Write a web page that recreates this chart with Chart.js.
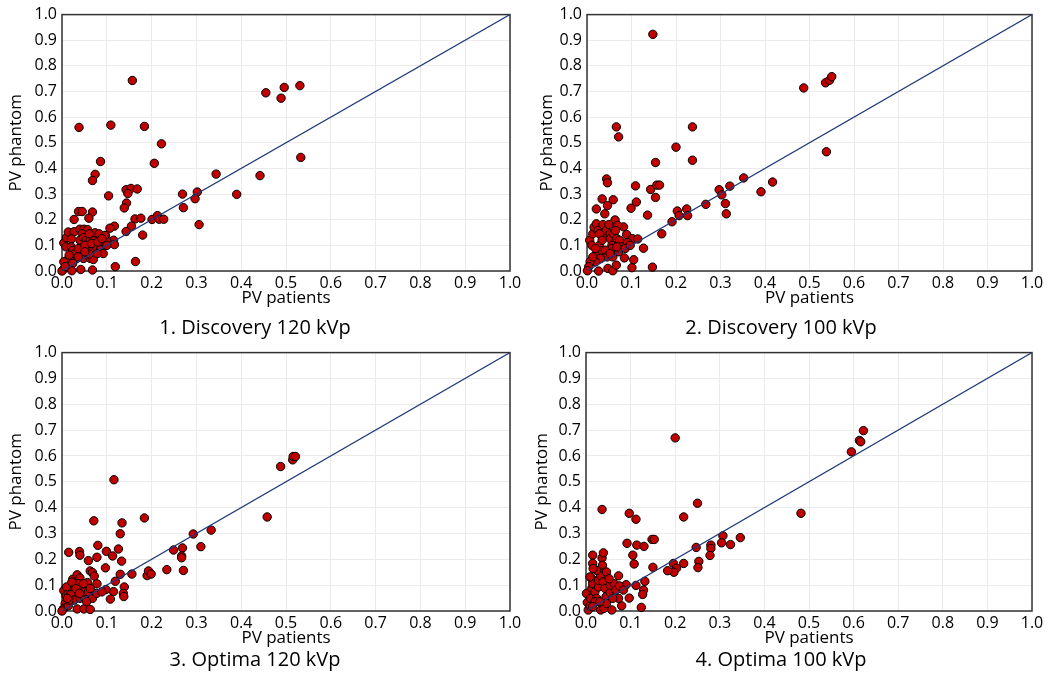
<!DOCTYPE html>
<html>
<head>
<meta charset="utf-8">
<script src="https://cdn.jsdelivr.net/npm/chart.js@4.4.1/dist/chart.umd.min.js"></script>
<style>
  html, body { margin: 0; padding: 0; background: #ffffff; }
  body { width: 1064px; height: 675px; position: relative; overflow: hidden; }
  canvas { position: absolute; }
</style>
</head>
<body>
<canvas id="p1" width="530" height="340" style="left:0px;top:0px"></canvas>
<canvas id="p2" width="530" height="340" style="left:530px;top:0px"></canvas>
<canvas id="p3" width="530" height="337" style="left:0px;top:338px"></canvas>
<canvas id="p4" width="530" height="337" style="left:530px;top:338px"></canvas>
<script>
// Axis ticks shared by both axes of every panel
const tickValues = [0.0, 0.1, 0.2, 0.3, 0.4, 0.5, 0.6, 0.7, 0.8, 0.9, 1.0];
// Line of identity (phantom = patients)
const identityLine = [0, 1];

const panelTitles = ['1. Discovery 120 kVp', '2. Discovery 100 kVp', '3. Optima 120 kVp', '4. Optima 100 kVp'];

// 1. Discovery 120 kVp
const discovery120Patients = [
  0.157, 0.455, 0.496, 0.489, 0.531, 0.533, 0.038, 0.109, 0.184, 0.222,
  0.086, 0.206, 0.074, 0.068, 0.344, 0.442, 0.104, 0.143, 0.154, 0.168,
  0.147, 0.144, 0.139, 0.269, 0.302, 0.297, 0.271, 0.390, 0.306, 0.037,
  0.045, 0.068, 0.027, 0.060, 0.163, 0.176, 0.201, 0.213, 0.217, 0.227,
  0.117, 0.107, 0.155, 0.143, 0.180, 0.119, 0.164, 0.115, 0.117, 0.097,
  0.100,
  0.004, 0.010, 0.014, 0.027, 0.021, 0.009, 0.021, 0.024, 0.040, 0.049,
  0.057, 0.045, 0.040, 0.048, 0.054, 0.063, 0.071, 0.074, 0.083, 0.096,
  0.061, 0.057, 0.043, 0.068, 0.077, 0.092, 0.086, 0.100, 0.048, 0.063,
  0.070, 0.033, 0.018, 0.010, 0.004, 0.024, 0.042, 0.068, 0.022, 0.003,
  0.000, 0.007, 0.029, 0.036, 0.051, 0.066, 0.080, 0.089, 0.092, 0.079,
  0.061, 0.051, 0.036, 0.016
];
const discovery120Phantom = [
  0.743, 0.695, 0.716, 0.674, 0.723, 0.443, 0.560, 0.569, 0.564, 0.496,
  0.427, 0.420, 0.377, 0.353, 0.378, 0.372, 0.293, 0.317, 0.322, 0.320,
  0.302, 0.265, 0.246, 0.300, 0.308, 0.282, 0.247, 0.299, 0.181, 0.232,
  0.232, 0.230, 0.201, 0.206, 0.203, 0.206, 0.201, 0.216, 0.202, 0.202,
  0.175, 0.167, 0.175, 0.154, 0.140, 0.017, 0.037, 0.120, 0.103, 0.138,
  0.117,
  0.109, 0.130, 0.152, 0.153, 0.125, 0.094, 0.094, 0.081, 0.163, 0.163,
  0.161, 0.145, 0.120, 0.130, 0.120, 0.122, 0.120, 0.149, 0.145, 0.139,
  0.145, 0.079, 0.068, 0.081, 0.094, 0.094, 0.084, 0.100, 0.049, 0.049,
  0.045, 0.049, 0.042, 0.040, 0.036, 0.030, 0.006, 0.004, 0.001, 0.006,
  0.000, 0.017, 0.068, 0.087, 0.100, 0.107, 0.113, 0.126, 0.068, 0.068,
  0.066, 0.075, 0.055, 0.062
];

// 2. Discovery 100 kVp
const discovery100Patients = [
  0.148, 0.487, 0.536, 0.545, 0.550, 0.538, 0.066, 0.071, 0.200, 0.237,
  0.237, 0.154, 0.044, 0.046, 0.109, 0.143, 0.157, 0.163, 0.154, 0.111,
  0.099, 0.136, 0.352, 0.417, 0.297, 0.303, 0.321, 0.391, 0.311, 0.313,
  0.267, 0.224, 0.203, 0.207, 0.226, 0.191, 0.168, 0.127, 0.147, 0.101,
  0.105, 0.084, 0.021, 0.034, 0.040, 0.046, 0.059, 0.063, 0.082, 0.089,
  0.102, 0.114, 0.091,
  0.006, 0.011, 0.013, 0.016, 0.021, 0.025, 0.028, 0.036, 0.037, 0.043,
  0.049, 0.052, 0.052, 0.056, 0.060, 0.067, 0.069, 0.073, 0.076, 0.064,
  0.056, 0.022, 0.034, 0.041, 0.045, 0.030, 0.019, 0.007, 0.004, 0.001,
  0.026, 0.047, 0.058, 0.066, 0.058, 0.071, 0.086, 0.097, 0.052, 0.013,
  0.019, 0.028, 0.034, 0.067
];
const discovery100Phantom = [
  0.923, 0.714, 0.734, 0.744, 0.758, 0.465, 0.562, 0.523, 0.483, 0.562,
  0.432, 0.423, 0.359, 0.344, 0.332, 0.318, 0.335, 0.335, 0.287, 0.269,
  0.245, 0.218, 0.363, 0.347, 0.317, 0.297, 0.331, 0.309, 0.263, 0.223,
  0.260, 0.242, 0.234, 0.216, 0.216, 0.192, 0.145, 0.089, 0.015, 0.013,
  0.044, 0.051, 0.242, 0.281, 0.223, 0.255, 0.278, 0.199, 0.172, 0.142,
  0.126, 0.125, 0.111,
  0.120, 0.100, 0.145, 0.171, 0.184, 0.158, 0.100, 0.181, 0.133, 0.158,
  0.181, 0.145, 0.126, 0.100, 0.145, 0.126, 0.178, 0.120, 0.094, 0.158,
  0.088, 0.068, 0.079, 0.081, 0.055, 0.049, 0.036, 0.036, 0.017, 0.001,
  0.000, 0.010, 0.001, 0.023, 0.055, 0.075, 0.088, 0.100, 0.068, 0.055,
  0.088, 0.145, 0.120, 0.094
];

// 3. Optima 120 kVp
const optima120Patients = [
  0.116, 0.071, 0.134, 0.184, 0.130, 0.080, 0.099, 0.126, 0.113, 0.078,
  0.133, 0.059, 0.015, 0.039, 0.040, 0.097, 0.063, 0.068, 0.072, 0.130,
  0.156, 0.119, 0.078, 0.139, 0.115, 0.137, 0.138, 0.108, 0.098, 0.293,
  0.333, 0.310, 0.249, 0.269, 0.267, 0.267, 0.190, 0.193, 0.199, 0.234,
  0.271, 0.458, 0.488, 0.515, 0.516, 0.521,
  0.004, 0.009, 0.014, 0.020, 0.024, 0.029, 0.034, 0.040, 0.036, 0.044,
  0.029, 0.020, 0.027, 0.040, 0.051, 0.057, 0.049, 0.059, 0.068, 0.077,
  0.089, 0.063, 0.048, 0.007, 0.003, 0.000, 0.014, 0.034, 0.049, 0.063,
  0.055, 0.016, 0.010, 0.022, 0.031, 0.039, 0.012
];
const optima120Phantom = [
  0.508, 0.349, 0.341, 0.360, 0.299, 0.254, 0.231, 0.240, 0.213, 0.208,
  0.193, 0.195, 0.227, 0.230, 0.216, 0.167, 0.155, 0.149, 0.135, 0.142,
  0.143, 0.115, 0.105, 0.093, 0.075, 0.068, 0.056, 0.046, 0.083, 0.298,
  0.313, 0.249, 0.236, 0.244, 0.213, 0.206, 0.137, 0.155, 0.143, 0.160,
  0.157, 0.364, 0.559, 0.585, 0.598, 0.598,
  0.079, 0.059, 0.074, 0.093, 0.123, 0.106, 0.140, 0.128, 0.106, 0.087,
  0.077, 0.064, 0.042, 0.049, 0.049, 0.110, 0.074, 0.074, 0.049, 0.068,
  0.074, 0.087, 0.106, 0.029, 0.008, 0.000, 0.020, 0.008, 0.008, 0.006,
  0.036, 0.042, 0.093, 0.112, 0.087, 0.068, 0.049
];

// 4. Optima 100 kVp
const optima100Patients = [
  0.200, 0.595, 0.613, 0.616, 0.622, 0.482, 0.036, 0.097, 0.112, 0.219,
  0.250, 0.148, 0.153, 0.092, 0.114, 0.130, 0.105, 0.108, 0.150, 0.307,
  0.346, 0.304, 0.324, 0.247, 0.280, 0.280, 0.278, 0.253, 0.251, 0.219,
  0.196, 0.203, 0.197, 0.183, 0.132, 0.112, 0.129, 0.127, 0.124, 0.097,
  0.080, 0.090, 0.073, 0.015, 0.015, 0.036, 0.039, 0.037,
  0.001, 0.003, 0.005, 0.009, 0.010, 0.013, 0.013, 0.015, 0.020, 0.024,
  0.028, 0.028, 0.031, 0.033, 0.039, 0.043, 0.045, 0.033, 0.040, 0.046,
  0.054, 0.054, 0.058, 0.063, 0.067, 0.073, 0.075, 0.024, 0.046, 0.052,
  0.020, 0.015, 0.031, 0.060, 0.084, 0.009, 0.016
];
const optima100Phantom = [
  0.670, 0.616, 0.660, 0.655, 0.698, 0.378, 0.393, 0.378, 0.355, 0.364,
  0.417, 0.277, 0.277, 0.262, 0.255, 0.250, 0.216, 0.182, 0.169, 0.291,
  0.284, 0.264, 0.257, 0.246, 0.255, 0.242, 0.215, 0.192, 0.168, 0.184,
  0.184, 0.166, 0.150, 0.156, 0.115, 0.099, 0.081, 0.064, 0.014, 0.050,
  0.020, 0.102, 0.136, 0.216, 0.184, 0.205, 0.225, 0.177,
  0.068, 0.033, 0.004, 0.020, 0.049, 0.087, 0.125, 0.106, 0.074, 0.049,
  0.093, 0.119, 0.151, 0.136, 0.113, 0.087, 0.055, 0.004, 0.010, 0.029,
  0.072, 0.100, 0.004, 0.106, 0.081, 0.049, 0.097, 0.157, 0.151, 0.125,
  0.036, 0.017, 0.036, 0.049, 0.081, 0.132, 0.164
];

const FONT = "'Open Sans', 'DejaVu Sans', sans-serif";
const TEXT = '#000000';

// Dark frame around the plotting area (all four sides)
const framePlugin = {
  id: 'plotFrame',
  beforeDatasetsDraw(chart) {
    const a = chart.chartArea;
    const ctx = chart.ctx;
    ctx.save();
    ctx.strokeStyle = '#333333';
    ctx.lineWidth = 1.5;
    ctx.strokeRect(a.left, a.top, a.right - a.left, a.bottom - a.top);
    ctx.restore();
  }
};

function axisTicks(scale) {
  scale.ticks = tickValues.map(v => ({ value: v }));
}

function makePanel(id, xs, ys, title, cfg) {
  const points = xs.map((x, i) => ({ x: x, y: ys[i] }));
  const diag = identityLine.map(v => ({ x: v, y: v }));
  new Chart(document.getElementById(id), {
    type: 'scatter',
    data: {
      datasets: [
        {
          type: 'line',
          data: diag,
          borderColor: '#1f3a7a',
          borderWidth: 1.2,
          pointRadius: 0,
          fill: false,
          order: 0
        },
        {
          data: points,
          pointRadius: 4.2,
          pointBorderWidth: 1,
          pointBorderColor: '#000000',
          pointBackgroundColor: '#c00000',
          clip: false,
          order: 1
        }
      ]
    },
    options: {
      responsive: false,
      animation: false,
      layout: { padding: { left: 0, right: cfg.padRight, top: cfg.padTop, bottom: cfg.padBottom } },
      plugins: {
        legend: { display: false },
        tooltip: { enabled: false },
        title: {
          display: true,
          position: 'bottom',
          text: title,
          color: TEXT,
          font: { family: FONT, size: 20, weight: 'normal', lineHeight: 1.2 },
          padding: { top: cfg.titlePadTop, bottom: 0 }
        }
      },
      scales: {
        x: {
          type: 'linear',
          min: 0,
          max: 1,
          afterBuildTicks: axisTicks,
          afterFit: s => { s.height = cfg.xAxisHeight; },
          grid: { color: '#ebebeb', lineWidth: 1, drawTicks: false },
          border: { display: false },
          ticks: {
            callback: v => Number(v).toFixed(1),
            color: TEXT,
            font: { family: FONT, size: 16 },
            padding: 3,
            maxRotation: 0,
            autoSkip: false
          },
          title: {
            display: true,
            text: 'PV patients',
            color: TEXT,
            font: { family: FONT, size: 17, lineHeight: 1.2 },
            padding: { top: 0, bottom: 0 }
          }
        },
        y: {
          type: 'linear',
          min: 0,
          max: 1,
          afterBuildTicks: axisTicks,
          afterFit: s => { s.width = cfg.yAxisWidth; },
          grid: { color: '#ebebeb', lineWidth: 1, drawTicks: false },
          border: { display: false },
          ticks: {
            callback: v => Number(v).toFixed(1),
            color: TEXT,
            font: { family: FONT, size: 16 },
            padding: 5,
            autoSkip: false
          },
          title: {
            display: true,
            text: 'PV phantom',
            color: TEXT,
            font: { family: FONT, size: 17, lineHeight: 1.2 },
            padding: { top: cfg.yTitlePad, bottom: 0 }
          }
        }
      }
    },
    plugins: [framePlugin]
  });
}

makePanel('p1', discovery120Patients, discovery120Phantom, panelTitles[0],
  { padRight: 20, padTop: 12, padBottom: 0, titlePadTop: 7.8, xAxisHeight: 37.2, yAxisWidth: 62, yTitlePad: 5.8 });
makePanel('p2', discovery100Patients, discovery100Phantom, panelTitles[1],
  { padRight: 28, padTop: 12, padBottom: 0, titlePadTop: 7.8, xAxisHeight: 37.2, yAxisWidth: 57, yTitlePad: 6.8 });
makePanel('p3', optima120Patients, optima120Phantom, panelTitles[2],
  { padRight: 20, padTop: 12, padBottom: 2.8, titlePadTop: 0, xAxisHeight: 37.2, yAxisWidth: 62, yTitlePad: 5.8 });
makePanel('p4', optima100Patients, optima100Phantom, panelTitles[3],
  { padRight: 28, padTop: 13, padBottom: 2.8, titlePadTop: 0, xAxisHeight: 37.2, yAxisWidth: 56, yTitlePad: 1.8 });
</script>
</body>
</html>
